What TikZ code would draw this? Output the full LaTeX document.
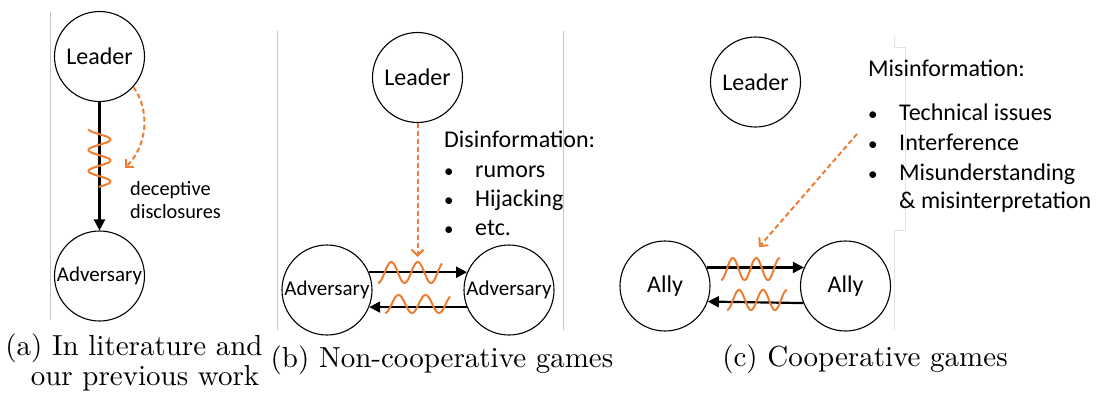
\documentclass[tikz,border=0pt]{standalone}
\usepackage{fontspec}
\newfontfamily\carl{Carlito}
\newfontfamily\lmten{lmroman10-regular}[Extension=.otf]
\usetikzlibrary{arrows.meta,calc}
\definecolor{org}{HTML}{ED7D31}
\definecolor{sep}{HTML}{C4C4C4}
\definecolor{sepl}{HTML}{E2E2E2}
\begin{document}
\begin{tikzpicture}[x=1pt,y=-1pt,
  agent/.style={draw=black,line width=1.1pt,circle,minimum size=90pt,inner sep=0pt,font=\carl\fontsize{24}{26}\selectfont},
  agentsm/.style={agent,font=\carl\fontsize{21}{24}\selectfont},
  msg/.style={draw=black,line width=2.2pt,-{Triangle[length=11pt,width=11pt]}},
  dec/.style={draw=org,line width=2pt,dash pattern=on 5pt off 3pt,-{Straight Barb[length=6pt,width=12pt]}},
  wave/.style={draw=org,line width=2pt},
  sepline/.style={draw=sep,line width=0.9pt},
  lst/.style={font=\carl\fontsize{24}{26}\selectfont,anchor=base west,inner sep=0pt},
  bul/.style={font=\carl\fontsize{19}{22}\selectfont,anchor=base west,inner sep=0pt},
  note/.style={font=\carl\fontsize{20.3}{23}\selectfont,anchor=base west,inner sep=0pt},
  captext/.style={font=\lmten\fontsize{29}{32}\selectfont,anchor=base,inner sep=0pt}]
\useasboundingbox (0,0) rectangle (1099,396);
% separators
\draw[sepline] (50,12) -- (50,320);
\draw[sepline] (277,31) -- (277,330);
\draw[sepline] (563,31) -- (563,330);
\draw[draw=sepl,line width=0.9pt] (894,36) -- (894,47) -- (905,47) -- (905,230) -- (894,230) -- (894,330);
% ---------- (a)
\node[agent] (La) at (99.5,56.5) {Leader};
\node[agentsm] (Aa) at (99.5,276) {Adversary};
\draw[msg] (La.south) -- (Aa.north);
\draw[wave] plot[domain=0:58,samples=90] ({99.5-11*cos(\x/21*360)},{129+\x});
\coordinate (ea) at (125,168);
\draw[dec] (La.-42) .. controls (150,110) and (148,145) .. (ea);
\node[note] (da) at (130,195) {deceptive};
\node[note] (db) at (130,218) {disclosures};
% ---------- (b)
\node[agent] (Lb) at (417.5,77.5) {Leader};
\node[agentsm] (Ab1) at (327,290) {Adversary};
\node[agentsm] (Ab2) at (509,290) {Adversary};
\coordinate (eb) at (417.5,257);
\draw[dec] (Lb.south) -- (eb);
\draw[msg] (Ab1.23) -- (Ab2.157);
\draw[msg] (Ab2.-158) -- (Ab1.-22);
\draw[wave] plot[domain=0:64,samples=100] ({378+\x},{272.5+10.5*cos(\x/26.5*360)});
\draw[wave] plot[domain=0:65,samples=100] ({385+\x},{304+9*cos(\x/27*360)});
\node[lst] (dis) at (444,147) {Disinformation:};
\node[bul] (b1) at (444,177) {\textbullet};
\node[bul] (b2) at (444,206) {\textbullet};
\node[bul] (b3) at (444,235) {\textbullet};
\node[lst] (t1) at (475,177) {rumors};
\node[lst] (t2) at (475,206) {Hijacking};
\node[lst] (t3) at (475,235) {etc.};
% ---------- (c)
\node[agent] (Lc) at (755.5,82) {Leader};
\node[agent] (Ac1) at (665,286) {Ally};
\node[agent] (Ac2) at (845.5,286) {Ally};
\draw[msg] (Ac1.24) -- (Ac2.156);
\draw[msg] (Ac2.-158) -- (Ac1.-20);
\draw[wave] plot[domain=0:59,samples=100] ({721+\x},{269+11*cos(\x/23.5*360)});
\draw[wave] plot[domain=0:60,samples=100] ({727+\x},{300+10*cos(\x/24*360)});
\coordinate (sc) at (857,134);
\coordinate (ec) at (759,247);
\draw[dec] (sc) -- (ec);
\node[lst] (mis) at (868,77) {Misinformation:};
\node[bul] (c1) at (868,120) {\textbullet};
\node[bul] (c2) at (868,150) {\textbullet};
\node[bul] (c3) at (868,180) {\textbullet};
\node[lst] (u1) at (899,120) {Technical issues};
\node[lst] (u2) at (899,150) {Interference};
\node[lst] (u3) at (899,180) {Misunderstanding};
\node[lst] (u4) at (899,208) {\& misinterpretation};
% ---------- captions
\node[captext] (ca1) at (134,355) {(a) In literature and};
\node[captext] (ca2) at (145,385) {our previous work};
\node[captext] (cb) at (442,367) {(b) Non-cooperative games};
\node[captext] (cc) at (865,366) {(c) Cooperative games};
\end{tikzpicture}
\end{document}
